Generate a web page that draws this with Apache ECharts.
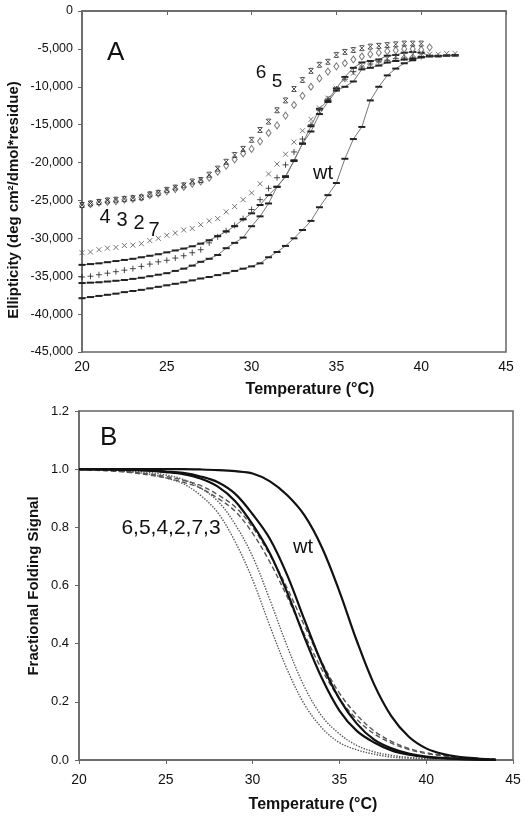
<!DOCTYPE html>
<html><head><meta charset="utf-8">
<script src="https://cdn.jsdelivr.net/npm/echarts@6/dist/echarts.min.js"></script>
<style>html,body{margin:0;padding:0;background:#fff}#c{width:526px;height:820px}</style>
</head><body><div id="c"></div>
<script>
// ---------- Panel A : ellipticity (deg cm2/dmol*residue) vs temperature ----------
const tempA = [20,20.5,21,21.5,22,22.5,23,23.5,24,24.5,25,25.5,26,26.5,27,27.5,28,28.5,29,29.5,30,30.5,31,31.5,32,32.5,33,33.5,34,34.5,35,35.5,36,36.5,37,37.5,38,38.5,39,39.5,40,40.5,41,41.5,42];
// mutant 6 (bar-capped x markers), 20..40
const ellip6 = [-25600,-25400,-25200,-25000,-24900,-24800,-24700,-24600,-24200,-24000,-23600,-23300,-23000,-22500,-22300,-21600,-20800,-19900,-19000,-18200,-17000,-15700,-14600,-13100,-11800,-10300,-9100,-7900,-7100,-6700,-5800,-5400,-5150,-4900,-4700,-4600,-4500,-4400,-4300,-4300,-4300];
// mutant 5 (open diamonds), 20..40.5
const ellip5 = [-25700,-25500,-25300,-25200,-25100,-24900,-24800,-24600,-24300,-24100,-23800,-23500,-23200,-22800,-22500,-22000,-21200,-20400,-19600,-18800,-18200,-17200,-16100,-15100,-13800,-12400,-11200,-10000,-8900,-8000,-7300,-6900,-6400,-6000,-5700,-5500,-5300,-5200,-5000,-5000,-5100,-4800];
// mutant 4 (x markers), 20..42
const ellip4 = [-31900,-31800,-31500,-31300,-31200,-30950,-30900,-30700,-30300,-30000,-29600,-29300,-28900,-28700,-28200,-27700,-27400,-26500,-25800,-24900,-24000,-22800,-21500,-20200,-18900,-17300,-15800,-14300,-12800,-11500,-10200,-9000,-8200,-7400,-7000,-6600,-6300,-6000,-5800,-5700,-5600,-5700,-5700,-5600,-5600];
// mutant 2 (+ markers), 20..40
const ellip2 = [-35100,-35000,-34800,-34600,-34400,-34200,-34000,-33700,-33400,-33100,-32900,-32600,-32300,-31900,-31500,-30600,-29800,-29000,-28300,-27400,-26200,-24900,-23400,-22000,-20300,-18600,-16900,-15000,-13100,-11600,-10300,-9000,-8000,-7400,-7000,-6700,-6500,-6300,-6200,-6100,-6000];
// mutant 3 (line with dash markers), 20..40.5
const ellip3 = [-33500,-33400,-33300,-33150,-33000,-32850,-32700,-32500,-32300,-32100,-31850,-31600,-31350,-31050,-30700,-30250,-29700,-29100,-28400,-27500,-26700,-25600,-24300,-23200,-21800,-19800,-17500,-15200,-12900,-11800,-10200,-8700,-7500,-6800,-6600,-6400,-5900,-5800,-5500,-5400,-5500,-5900];
// mutant 7 (line with dash markers), 20..42
const ellip7 = [-35900,-35850,-35800,-35700,-35600,-35500,-35350,-35200,-35000,-34800,-34600,-34300,-34000,-33600,-33100,-32700,-32200,-31300,-30600,-29900,-28400,-27100,-25400,-23200,-21900,-19700,-17500,-15900,-13600,-12000,-10500,-10000,-9300,-7700,-7500,-7200,-6800,-6600,-6400,-6300,-6100,-6000,-6000,-5900,-5900];
// wild type (line with dash markers), 20..42
const ellipWT = [-37900,-37750,-37600,-37450,-37300,-37100,-36950,-36800,-36600,-36400,-36200,-36000,-35800,-35550,-35300,-35100,-34850,-34600,-34300,-34000,-33700,-33300,-32500,-31800,-31000,-30000,-28900,-27700,-25900,-24300,-22700,-19500,-16900,-15300,-11800,-10000,-8500,-7600,-6900,-6500,-6100,-5950,-5900,-5850,-5800];

// ---------- Panel B : fractional folding signal vs temperature ----------
const tempB = [20,21,22,23,24,25,26,27,28,29,30,31,32,33,34,35,36,37,38,39,40,41,42,43,44];
const foldWT    = [1,1,1,1,1,1,1,0.999,0.997,0.993,0.985,0.958,0.91,0.84,0.73,0.58,0.41,0.26,0.15,0.08,0.04,0.02,0.01,0.005,0.001];
const foldSolA  = [1,0.999,0.999,0.997,0.995,0.99,0.983,0.968,0.94,0.89,0.81,0.71,0.575,0.42,0.28,0.17,0.1,0.06,0.033,0.018,0.01,0.006,0.003,0.001,0];
const foldSolB  = [1,1,0.999,0.998,0.996,0.992,0.987,0.975,0.955,0.915,0.845,0.76,0.635,0.48,0.33,0.21,0.125,0.07,0.04,0.022,0.012,0.007,0.004,0.002,0];
const foldDashA = [0.998,0.996,0.993,0.988,0.98,0.97,0.955,0.935,0.9,0.855,0.78,0.68,0.56,0.43,0.31,0.21,0.14,0.09,0.058,0.036,0.022,0.014,0.008,0.005,0.003];
const foldDashB = [0.999,0.997,0.995,0.99,0.984,0.975,0.962,0.944,0.912,0.87,0.8,0.705,0.59,0.46,0.335,0.23,0.155,0.1,0.064,0.04,0.025,0.016,0.009,0.005,0.003];
const foldDotA  = [0.999,0.998,0.995,0.99,0.983,0.97,0.95,0.91,0.85,0.75,0.62,0.46,0.31,0.19,0.11,0.06,0.035,0.02,0.01,0.006,0.003,0.002,0.001,0,0];
const foldDotB  = [1,0.999,0.997,0.994,0.989,0.98,0.965,0.935,0.89,0.81,0.7,0.55,0.39,0.25,0.15,0.09,0.05,0.028,0.016,0.009,0.005,0.003,0.001,0,0];

const tickA = [0,-5000,-10000,-15000,-20000,-25000,-30000,-35000,-40000,-45000];

function pairs(t, v){ return v.map((y,i)=>[t[i], y]); }

const FONT = 'Liberation Sans, Arial, sans-serif';
const SYM_X = 'path://M0,0L10,10M10,0L0,10';
const SYM_XBAR = 'path://M1,0L9,0M1,10L9,10M0,0L10,10M10,0L0,10';
const SYM_PLUS = 'path://M5,0L5,10M0,5L10,5';

const chart = echarts.init(document.getElementById('c'), null, {renderer:'canvas'});

const axisLine = {show:true, lineStyle:{color:'#666', width:1.5}};
const axisTick = {show:true, inside:false, length:4, lineStyle:{color:'#666', width:1}};

function strokeScatter(name, data, sym, size, color){
  return {name, type:'scatter', xAxisIndex:0, yAxisIndex:0, data, symbol:sym, symbolSize:size,
    itemStyle:{color:'rgba(0,0,0,0)', borderColor:color, borderWidth:1}, silent:true, z:3};
}
function dashLine(name, data){
  return {name, type:'line', xAxisIndex:0, yAxisIndex:0, data, symbol:'rect', symbolSize:[7,2],
    showAllSymbol:true, itemStyle:{color:'#222'}, lineStyle:{color:'#777', width:1}, silent:true, z:2};
}
function curveB(name, data, type, width, color){
  return {name, type:'line', xAxisIndex:1, yAxisIndex:1, data, smooth:0.35, symbol:'none',
    lineStyle:{color, width, type}, silent:true};
}

const option = {
  animation:false,
  backgroundColor:'#fff',
  grid:[
    {left:82, top:11, width:424, height:341, show:true, borderColor:'#666', borderWidth:1.5, backgroundColor:'transparent'},
    {left:79, top:411, width:434, height:349, show:true, borderColor:'#666', borderWidth:1.5, backgroundColor:'transparent'}
  ],
  xAxis:[
    {type:'value', gridIndex:0, min:20, max:45, interval:5, axisLine, axisTick, splitLine:{show:false},
     axisLabel:{fontSize:14, color:'#111', margin:8, fontFamily:FONT}},
    {type:'value', gridIndex:1, min:20, max:45, interval:5, axisLine, axisTick, splitLine:{show:false},
     axisLabel:{fontSize:14, color:'#111', margin:13, fontFamily:FONT}}
  ],
  yAxis:[
    {type:'value', gridIndex:0, min:tickA[tickA.length-1], max:tickA[0], interval:5000, axisLine, axisTick, splitLine:{show:false},
     axisLabel:{fontSize:12.5, color:'#111', margin:9, fontFamily:FONT,
       formatter:v=> v===0 ? '0' : (v<0?'-':'') + Math.abs(v).toLocaleString('en-US')}},
    {type:'value', gridIndex:1, min:0, max:1.2, interval:0.2, axisLine, axisTick, splitLine:{show:false},
     axisLabel:{fontSize:13, color:'#111', margin:10, fontFamily:FONT, formatter:v=>v.toFixed(1)}}
  ],
  series:[
    dashLine('wt', pairs(tempA, ellipWT)),
    dashLine('7', pairs(tempA, ellip7)),
    dashLine('3', pairs(tempA, ellip3)),
    strokeScatter('2', pairs(tempA, ellip2), SYM_PLUS, 6, '#222'),
    strokeScatter('4', pairs(tempA, ellip4), SYM_X, 5, '#555'),
    {name:'5', type:'scatter', xAxisIndex:0, yAxisIndex:0, data:pairs(tempA, ellip5), symbol:'diamond', symbolSize:[5,7],
     itemStyle:{color:'#fff', borderColor:'#555', borderWidth:1}, silent:true, z:3},
    strokeScatter('6', pairs(tempA, ellip6), SYM_XBAR, 5, '#222'),

    curveB('dotA', pairs(tempB, foldDotA), 'dotted', 1.4, '#555'),
    curveB('dotB', pairs(tempB, foldDotB), 'dotted', 1.4, '#555'),
    curveB('dashA', pairs(tempB, foldDashA), [5,3], 1.4, '#555'),
    curveB('dashB', pairs(tempB, foldDashB), [5,3], 1.4, '#555'),
    curveB('solA', pairs(tempB, foldSolA), 'solid', 2.2, '#111'),
    curveB('solB', pairs(tempB, foldSolB), 'solid', 2.2, '#111'),
    curveB('wtB', pairs(tempB, foldWT), 'solid', 2.2, '#111')
  ],
  graphic:[
    {type:'text', x:107, y:40, style:{text:'A', font:'26px '+FONT, fill:'#111'}},
    {type:'text', x:261, y:73, style:{text:'6', font:'19px '+FONT, fill:'#111', textAlign:'center', textVerticalAlign:'middle'}},
    {type:'text', x:277, y:82, style:{text:'5', font:'19px '+FONT, fill:'#111', textAlign:'center', textVerticalAlign:'middle'}},
    {type:'text', x:105, y:217, style:{text:'4', font:'20px '+FONT, fill:'#111', textAlign:'center', textVerticalAlign:'middle'}},
    {type:'text', x:122, y:220, style:{text:'3', font:'20px '+FONT, fill:'#111', textAlign:'center', textVerticalAlign:'middle'}},
    {type:'text', x:139, y:223, style:{text:'2', font:'20px '+FONT, fill:'#111', textAlign:'center', textVerticalAlign:'middle'}},
    {type:'text', x:154, y:230, style:{text:'7', font:'20px '+FONT, fill:'#111', textAlign:'center', textVerticalAlign:'middle'}},
    {type:'text', x:323, y:173, style:{text:'wt', font:'20px '+FONT, fill:'#111', textAlign:'center', textVerticalAlign:'middle'}},
    {type:'text', x:14, y:200, rotation:Math.PI/2, style:{text:'Ellipticity (deg cm\u00B2/dmol*residue)', font:'bold 15px '+FONT, fill:'#111', textAlign:'center', textVerticalAlign:'middle'}},
    {type:'text', x:310, y:390, style:{text:'Temperature (\u00B0C)', font:'bold 16px '+FONT, fill:'#111', textAlign:'center', textVerticalAlign:'middle'}},

    {type:'text', x:100, y:425, style:{text:'B', font:'26px '+FONT, fill:'#111'}},
    {type:'text', x:171, y:528, style:{text:'6,5,4,2,7,3', font:'21px '+FONT, fill:'#111', textAlign:'center', textVerticalAlign:'middle'}},
    {type:'text', x:303, y:547, style:{text:'wt', font:'20px '+FONT, fill:'#111', textAlign:'center', textVerticalAlign:'middle'}},
    {type:'text', x:34, y:586, rotation:Math.PI/2, style:{text:'Fractional Folding Signal', font:'bold 15px '+FONT, fill:'#111', textAlign:'center', textVerticalAlign:'middle'}},
    {type:'text', x:313, y:805, style:{text:'Temperature (\u00B0C)', font:'bold 16px '+FONT, fill:'#111', textAlign:'center', textVerticalAlign:'middle'}}
  ]
};
chart.setOption(option);
</script>
</body></html>
